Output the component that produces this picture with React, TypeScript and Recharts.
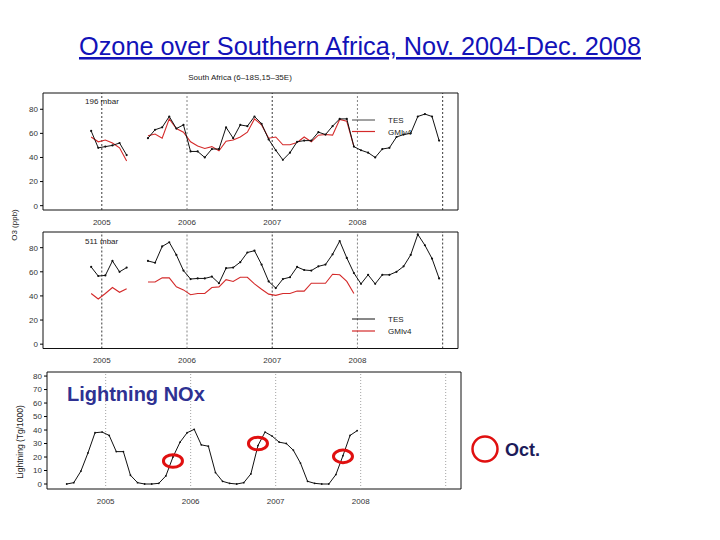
import React from 'react';
import { LineChart, ComposedChart, Line, XAxis, YAxis, ReferenceArea, ReferenceLine, ReferenceDot } from 'recharts';

// ---------- data ----------
const OZONE_MONTHS = [
  '2004-11', '2004-12',
  '2005-01', '2005-02', '2005-03', '2005-04', '2005-05', '2005-06', '2005-07', '2005-08', '2005-09', '2005-10', '2005-11', '2005-12',
  '2006-01', '2006-02', '2006-03', '2006-04', '2006-05', '2006-06', '2006-07', '2006-08', '2006-09', '2006-10', '2006-11', '2006-12',
  '2007-01', '2007-02', '2007-03', '2007-04', '2007-05', '2007-06', '2007-07', '2007-08', '2007-09', '2007-10', '2007-11', '2007-12',
  '2008-01', '2008-02', '2008-03', '2008-04', '2008-05', '2008-06', '2008-07', '2008-08', '2008-09', '2008-10', '2008-11', '2008-12',
];

const TES_196 = [
  62, 48,
  49, 50, 52, 42, null, null, 56, 63, 65, 74, 64, 67,
  45, 45, 40, 47, 47, 65, 56, 67, 66, 74, 68, 55,
  46, 38, 44, 53, 54, 54, 61, 59, 66, 72, 72, 49,
  46, 44, 40, 47, 48, 57, 59, 60, 74, 76, 74, 54,
];
const GMI_196 = [
  57, 53,
  54.5, 52, 48, 37, null, null, 58, 59.5, 56, 72, 64, 61,
  53, 49.5, 47.5, 49, 45.5, 53.5, 54.5, 57, 61, 72, 67, 56,
  57, 50.5, 50.5, 52.5, 57, 53, 58.5, 59, 58.5, 71.5, 70, 49,
  null, null, null, null, null, null, null, null, null, null, null, null,
];
const TES_511 = [
  64, 56.5,
  57, 69, 60, 63.5, null, null, 69, 67.5, 81, 84.5, 74, 61,
  54, 54.5, 54.5, 56, 50.5, 63, 63.5, 68, 76, 77.5, 66, 52,
  46.5, 54, 55.5, 64, 61.5, 61, 64.5, 66, 74.5, 85.5, 71.5, 59,
  50, 57.5, 50, 57.5, 57.5, 60, 64.5, 74, 91, 82, 71, 54.5,
];
const GMI_511 = [
  42, 37.5,
  42, 47, 43, 46, null, null, 51.5, 51.5, 55, 55, 47.5, 45,
  41, 42, 42, 47, 47.5, 53.5, 52, 55.5, 55.5, 50, 45.5, 41.5,
  40.5, 42, 42, 44, 44, 50.5, 50.5, 50.5, 58, 57.5, 52, 42,
  null, null, null, null, null, null, null, null, null, null, null, null,
];

const LIGHTNING_MONTHS = [
  '2004-07', '2004-08', '2004-09', '2004-10', '2004-11', '2004-12',
  '2005-01', '2005-02', '2005-03', '2005-04', '2005-05', '2005-06', '2005-07', '2005-08', '2005-09', '2005-10', '2005-11', '2005-12',
  '2006-01', '2006-02', '2006-03', '2006-04', '2006-05', '2006-06', '2006-07', '2006-08', '2006-09', '2006-10', '2006-11', '2006-12',
  '2007-01', '2007-02', '2007-03', '2007-04', '2007-05', '2007-06', '2007-07', '2007-08', '2007-09', '2007-10', '2007-11', '2007-12',
];
const LIGHTNING = [
  0, 1, 9.5, 23, 38, 38.5,
  36, 24, 24, 6.5, 1, 0, 0, 0.5, 6, 20, 31, 38,
  40.5, 29, 28, 8.5, 2, 0.5, 0, 1, 7.5, 28.5, 38.5, 35.5,
  31, 30, 25, 15.5, 2, 0.5, 0, 0, 7, 21, 36, 39.5,
];

const OCT_MARK_MONTHS = ['2005-10', '2006-10', '2007-10'];
const OCT_MARK_VALUES = [17, 30, 20.5];

const YEAR_TICKS = [2005, 2006, 2007, 2008, 2009];
const YEAR_LABELS = ['2005', '2006', '2007', '2008', ''];
const OZONE_TICKS = [0, 20, 40, 60, 80];
const LIGHTNING_TICKS = [0, 10, 20, 30, 40, 50, 60, 70, 80];

const X_DOMAIN: [number, number] = [2004.31, 2009.18];

// ---------- helpers ----------
const FONT = '"Liberation Sans", Arial, sans-serif';
const tickStyle = { fontSize: 8, fill: '#333', fontFamily: FONT };
const RED = '#d42a2a';

const toX = (m: string) => {
  const [y, mo] = m.split('-').map(Number);
  return y + (mo - 0.5) / 12;
};
const yearLabel = (v: number) => YEAR_LABELS[YEAR_TICKS.indexOf(v)] ?? '';

function OzonePanel(props: {
  top: number; height: number; margin: any; tes: (number | null)[]; gmi: (number | null)[]; yDomain: [number, number];
}) {
  const { top, height, margin, tes, gmi, yDomain } = props;
  const data = OZONE_MONTHS.map((m, i) => ({ x: toX(m), tes: tes[i], gmi: gmi[i] }));
  return (
    <div style={{ position: 'absolute', left: 0, top }}>
      <LineChart width={480} height={height} data={data} margin={margin}>
        <XAxis type="number" dataKey="x" domain={X_DOMAIN} allowDataOverflow ticks={YEAR_TICKS} interval={0}
          tickFormatter={yearLabel} tickLine={false} axisLine={false} tick={tickStyle} height={16} tickMargin={3} />
        <YAxis type="number" domain={yDomain} allowDataOverflow ticks={OZONE_TICKS} interval={0} width={30}
          tickSize={3} tickMargin={2} tick={tickStyle} axisLine={false} tickLine={{ stroke: '#000' }} />
        <YAxis yAxisId="r" orientation="right" type="number" domain={yDomain} allowDataOverflow ticks={OZONE_TICKS} interval={0}
          width={10} tickSize={3} tick={false} axisLine={false} tickLine={{ stroke: '#000' }} />
        {YEAR_TICKS.map((y, i) => (
          <ReferenceLine key={y} x={y} stroke={i % 2 === 0 ? '#222' : '#777'} strokeDasharray="2 2" strokeWidth={0.9} />
        ))}
        <ReferenceArea x1={X_DOMAIN[0]} x2={X_DOMAIN[1]} y1={yDomain[0]} y2={yDomain[1]} fill="none" fillOpacity={0}
          stroke="#111" strokeWidth={1} ifOverflow="visible" />
        <Line type="linear" dataKey="gmi" stroke={RED} strokeWidth={1.1} dot={false} isAnimationActive={false} connectNulls={false} />
        <Line type="linear" dataKey="tes" stroke="#111" strokeWidth={1} dot={{ r: 1.1, fill: '#111', stroke: 'none' }}
          isAnimationActive={false} connectNulls={false} />
      </LineChart>
    </div>
  );
}

function LightningPanel() {
  const data = LIGHTNING_MONTHS.map((m, i) => ({ x: toX(m), v: LIGHTNING[i] }));
  const yDomain: [number, number] = [-3.7, 83];
  return (
    <div style={{ position: 'absolute', left: 0, top: 360 }}>
      <ComposedChart width={480} height={150} data={data} margin={{ top: 12, right: 9, bottom: 5, left: 17 }}>
        <XAxis type="number" dataKey="x" domain={X_DOMAIN} allowDataOverflow ticks={YEAR_TICKS} interval={0}
          tickFormatter={yearLabel} tickLine={false} axisLine={false} tick={tickStyle} height={16} tickMargin={3} />
        <YAxis type="number" domain={yDomain} allowDataOverflow ticks={LIGHTNING_TICKS} interval={0} width={30}
          tickSize={3} tickMargin={2} tick={tickStyle} axisLine={false} tickLine={{ stroke: '#000' }} />
        <YAxis yAxisId="r" orientation="right" type="number" domain={yDomain} allowDataOverflow ticks={LIGHTNING_TICKS} interval={0}
          width={10} tickSize={3} tick={false} axisLine={false} tickLine={{ stroke: '#000' }} />
        {YEAR_TICKS.map((y) => (
          <ReferenceLine key={y} x={y} stroke="#999" strokeDasharray="1 2" strokeWidth={0.9} />
        ))}
        <ReferenceArea x1={X_DOMAIN[0]} x2={X_DOMAIN[1]} y1={yDomain[0]} y2={yDomain[1]} fill="none" fillOpacity={0}
          stroke="#111" strokeWidth={1} ifOverflow="visible" />
        <Line type="linear" dataKey="v" stroke="#111" strokeWidth={1} dot={{ r: 0.9, fill: '#111', stroke: 'none' }}
          isAnimationActive={false} />
        {OCT_MARK_MONTHS.map((m, i) => (
          <ReferenceDot key={m} x={toX(m)} y={OCT_MARK_VALUES[i]} r={8} ifOverflow="visible"
            shape={(p: any) => (
              <ellipse cx={p.cx} cy={p.cy} rx={9.5} ry={6.3} fill="none" stroke="#e01010" strokeWidth={3} />
            )} />
        ))}
      </ComposedChart>
    </div>
  );
}

export default function App() {
  return (
    <div style={{ position: 'absolute', left: 0, top: 0, width: 720, height: 540, background: '#fff', overflow: 'hidden' }}>
      <OzonePanel top={60} height={170} margin={{ top: 33, right: 12, bottom: 4, left: 13 }}
        tes={TES_196} gmi={GMI_196} yDomain={[-3.6, 93.5]} />
      <OzonePanel top={220} height={150} margin={{ top: 12, right: 12, bottom: 5.5, left: 13 }}
        tes={TES_511} gmi={GMI_511} yDomain={[-3.6, 93]} />
      <LightningPanel />
      <svg width={720} height={540} style={{ position: 'absolute', left: 0, top: 0, pointerEvents: 'none' }}>
        <text x={360} y={55} textAnchor="middle" fontFamily={FONT} fontSize={25.3} fill="#1212b8"
          style={{ textDecoration: 'underline' }}>Ozone over Southern Africa, Nov. 2004-Dec. 2008</text>
        <text x={240} y={80} textAnchor="middle" fontFamily={FONT} fontSize={8} fill="#222">South Africa (6–18S,15–35E)</text>
        <text x={85} y={104} fontFamily={FONT} fontSize={8} fill="#222">196 mbar</text>
        <text x={85} y={244} fontFamily={FONT} fontSize={8} fill="#222">511 mbar</text>
        <text x={17} y={225} textAnchor="middle" fontFamily={FONT} fontSize={8} fill="#222"
          transform="rotate(-90 17 225)">O3 (ppb)</text>
        <text x={23} y={442} textAnchor="middle" fontFamily={FONT} fontSize={8.5} fill="#222"
          transform="rotate(-90 23 442)">Lightning (Tg/1000)</text>
        {/* legends */}
        <line x1={352} y1={120} x2={375} y2={120} stroke="#444" strokeWidth={1} />
        <text x={388} y={123} fontFamily={FONT} fontSize={8} fill="#222">TES</text>
        <line x1={352} y1={131.5} x2={375} y2={131.5} stroke={RED} strokeWidth={1.2} />
        <text x={388} y={134.5} fontFamily={FONT} fontSize={8} fill="#222">GMIv4</text>
        <line x1={352} y1={319} x2={375} y2={319} stroke="#111" strokeWidth={1} />
        <text x={388} y={322} fontFamily={FONT} fontSize={8} fill="#222">TES</text>
        <line x1={352} y1={331} x2={375} y2={331} stroke={RED} strokeWidth={1.2} />
        <text x={388} y={334} fontFamily={FONT} fontSize={8} fill="#222">GMIv4</text>
        <text x={67} y={401} fontFamily={FONT} fontSize={20} fontWeight="bold" fill="#2e3192">Lightning NOx</text>
        <circle cx={485} cy={449} r={12.5} fill="none" stroke="#e01010" strokeWidth={2.5} />
        <text x={505} y={455.5} fontFamily={FONT} fontSize={18} fontWeight="bold" fill="#1c1c5a">Oct.</text>
      </svg>
    </div>
  );
}
